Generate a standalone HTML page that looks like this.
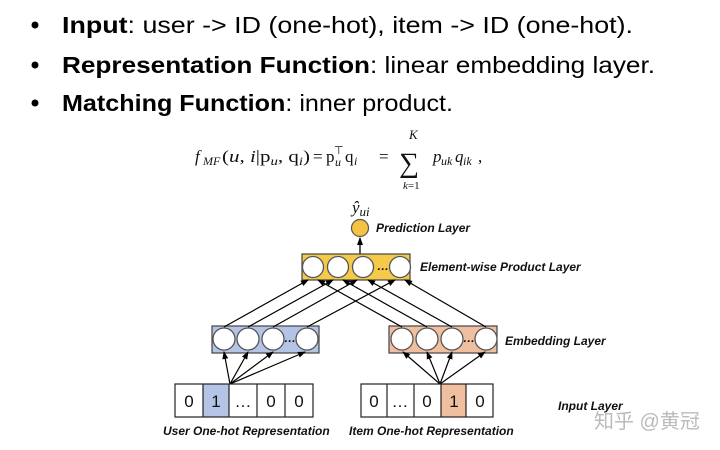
<!DOCTYPE html>
<html><head><meta charset="utf-8"><style>
body{margin:0;background:#fff;}
svg{display:block;}
.b{font-family:"Liberation Sans",sans-serif;font-size:23px;fill:#000;}
.lab{font-family:"Liberation Sans",sans-serif;font-size:12px;font-weight:bold;font-style:italic;fill:#111;}
.cell{font-family:"Liberation Sans",sans-serif;font-size:17px;fill:#111;}
.m{font-family:"Liberation Serif",serif;font-size:17px;fill:#111;}
.i{font-style:italic;}
.s{font-size:12px;}
</style></head><body>
<svg width="720" height="450" viewBox="0 0 720 450" xmlns="http://www.w3.org/2000/svg">
<defs><marker id="a" markerWidth="8" markerHeight="8" refX="7" refY="4" orient="auto" markerUnits="userSpaceOnUse"><path d="M0,1 L8,4 L0,7 Z" fill="#000"/></marker></defs>
<circle cx="35" cy="25" r="3.5" fill="#000"/>
<circle cx="35" cy="65" r="3.5" fill="#000"/>
<circle cx="35" cy="103" r="3.5" fill="#000"/>
<text class="b" x="62" y="33" textLength="571" lengthAdjust="spacingAndGlyphs"><tspan font-weight="bold">Input</tspan>: user -&gt; ID (one-hot), item -&gt; ID (one-hot).</text>
<text class="b" x="62" y="73" textLength="593" lengthAdjust="spacingAndGlyphs"><tspan font-weight="bold">Representation Function</tspan>: linear embedding layer.</text>
<text class="b" x="62" y="111" textLength="391" lengthAdjust="spacingAndGlyphs"><tspan font-weight="bold">Matching Function</tspan>: inner product.</text>

<g class="m">
<text x="195" y="162" class="i">f</text>
<text x="203" y="165" class="i s">MF</text>
<text x="222" y="162" textLength="88" lengthAdjust="spacingAndGlyphs">(<tspan class="i">u</tspan>, <tspan class="i">i</tspan>|p<tspan class="i s" dy="3">u</tspan><tspan dy="-3">, q</tspan><tspan class="i s" dy="3">i</tspan><tspan dy="-3">)</tspan></text>
<text x="313" y="162">=</text>
<text x="326" y="162">p</text>
<text x="335" y="166" class="i s">u</text>
<text x="334" y="154" font-size="11">⊤</text>
<text x="345" y="162">q</text>
<text x="354" y="165" class="i s">i</text>
<text x="379" y="162">=</text>
<text x="399" y="172" font-size="28">∑</text>
<text x="409" y="139" class="i" font-size="13">K</text>
<text x="403" y="189" font-size="11"><tspan class="i">k</tspan>=1</text>
<text x="433" y="162" class="i">p</text>
<text x="441" y="165" class="i s">uk</text>
<text x="455" y="162" class="i">q</text>
<text x="463" y="165" class="i s">ik</text>
<text x="478" y="162">,</text>
</g>

<text class="m" x="352" y="213" font-style="italic" font-size="18">ŷ<tspan font-size="13" dy="3">ui</tspan></text>
<circle cx="360" cy="228" r="8.5" fill="#f5c242" stroke="#555" stroke-width="1.2"/>
<text class="lab" x="376" y="232">Prediction Layer</text>
<line x1="360" y1="254" x2="360" y2="238" stroke="#000" stroke-width="1.3" marker-end="url(#a)"/>

<rect x="302" y="254" width="108" height="26" fill="#f5c94a" stroke="#444" stroke-width="1.2"/>
<g fill="#fff" stroke="#555" stroke-width="1.3">
<circle cx="313" cy="267" r="10.5"/><circle cx="338" cy="267" r="10.5"/><circle cx="363" cy="267" r="10.5"/><circle cx="400" cy="267" r="10.5"/>
</g>
<text class="lab" x="377" y="270" font-weight="normal" font-style="normal" font-size="10">…</text>
<text class="lab" x="420" y="271">Element-wise Product Layer</text>

<rect x="212" y="326" width="107" height="27" fill="#b4c4e6" stroke="#444" stroke-width="1.2"/>
<rect x="389" y="326" width="108" height="27" fill="#f0bfa0" stroke="#444" stroke-width="1.2"/>
<g fill="#fff" stroke="#555" stroke-width="1.3">
<circle cx="224" cy="339" r="11"/><circle cx="248" cy="339" r="11"/><circle cx="273" cy="339" r="11"/><circle cx="307" cy="339" r="11"/>
<circle cx="402" cy="339" r="11"/><circle cx="427" cy="339" r="11"/><circle cx="452" cy="339" r="11"/><circle cx="486" cy="339" r="11"/>
</g>
<text class="lab" x="284" y="342" font-weight="normal" font-style="normal" font-size="10">…</text>
<text class="lab" x="463" y="342" font-weight="normal" font-style="normal" font-size="10">…</text>
<text class="lab" x="505" y="345">Embedding Layer</text>

<g stroke="#000" stroke-width="1.2" marker-end="url(#a)">
<line x1="224" y1="327" x2="308" y2="280"/>
<line x1="248" y1="327" x2="333" y2="280"/>
<line x1="273" y1="327" x2="357" y2="280"/>
<line x1="307" y1="327" x2="395" y2="280"/>
<line x1="402" y1="327" x2="318" y2="280"/>
<line x1="427" y1="327" x2="343" y2="280"/>
<line x1="452" y1="327" x2="368" y2="280"/>
<line x1="486" y1="327" x2="405" y2="280"/>
<line x1="230" y1="384" x2="224" y2="352"/>
<line x1="230" y1="384" x2="248" y2="352"/>
<line x1="230" y1="384" x2="273" y2="352"/>
<line x1="230" y1="384" x2="305" y2="352"/>
<line x1="440" y1="384" x2="403" y2="352"/>
<line x1="440" y1="384" x2="427" y2="352"/>
<line x1="440" y1="384" x2="452" y2="352"/>
<line x1="440" y1="384" x2="485" y2="352"/>
</g>

<rect x="203" y="384" width="26" height="33" fill="#b4c4e6"/>
<rect x="441" y="384" width="25" height="33" fill="#f0bfa0"/>
<g fill="none" stroke="#222" stroke-width="1.2">
<rect x="175" y="384" width="138" height="33"/>
<line x1="203" y1="384" x2="203" y2="417"/><line x1="229" y1="384" x2="229" y2="417"/><line x1="257" y1="384" x2="257" y2="417"/><line x1="285" y1="384" x2="285" y2="417"/>
<rect x="361" y="384" width="132" height="33"/>
<line x1="387" y1="384" x2="387" y2="417"/><line x1="414" y1="384" x2="414" y2="417"/><line x1="441" y1="384" x2="441" y2="417"/><line x1="466" y1="384" x2="466" y2="417"/>
</g>
<g class="cell" text-anchor="middle">
<text x="189" y="407">0</text><text x="216" y="407">1</text><text x="243" y="407">…</text><text x="271" y="407">0</text><text x="299" y="407">0</text>
<text x="374" y="407">0</text><text x="400" y="407">…</text><text x="427" y="407">0</text><text x="454" y="407">1</text><text x="480" y="407">0</text>
</g>
<text class="lab" x="558" y="410">Input Layer</text>
<text class="lab" x="163" y="435">User One-hot Representation</text>
<text class="lab" x="349" y="435">Item One-hot Representation</text>
<text x="594" y="428" font-family="'Liberation Sans','Noto Sans CJK SC',sans-serif" font-size="20" fill="#bbb">知乎 @黄冠</text>
</svg>
</body></html>
